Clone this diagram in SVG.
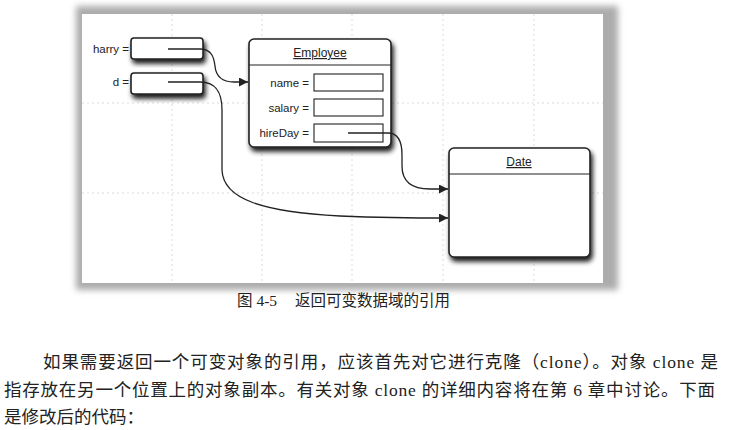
<svg xmlns="http://www.w3.org/2000/svg" width="730" height="430" viewBox="0 0 730 430">
<style>
.lbl{font-family:"Liberation Sans",Arial,sans-serif;font-size:11.5px;fill:#222}
.ttl{font-family:"Liberation Sans",Arial,sans-serif;font-size:12px;fill:#222;text-decoration:underline}
.box{fill:#fff;stroke:#222;stroke-width:1.6}
.fld{fill:#fff;stroke:#222;stroke-width:1.1}
.grid{stroke:#d2d2d2;stroke-width:0.8;stroke-dasharray:2 3;fill:none}
.con{fill:none;stroke:#222;stroke-width:1.3}
.cn{font-family:"Liberation Serif","Noto Sans CJK SC",serif;fill:#222}
</style>
<defs>
<filter id="sh" x="-20%" y="-20%" width="150%" height="160%">
<feGaussianBlur in="SourceAlpha" stdDeviation="2.6"/>
<feOffset dx="2" dy="3.5" result="b"/>
<feComponentTransfer><feFuncA type="linear" slope="0.9"/></feComponentTransfer>
<feMerge><feMergeNode/><feMergeNode in="SourceGraphic"/></feMerge>
</filter>
<filter id="frame" x="-5%" y="-5%" width="110%" height="110%">
<feGaussianBlur stdDeviation="3"/>
</filter>
<marker id="ar" viewBox="0 0 10 10" refX="10" refY="5" markerWidth="9" markerHeight="9" markerUnits="userSpaceOnUse" orient="auto">
<path d="M0,0 L10,5 L0,10 z" fill="#222"/>
</marker>
</defs>
<rect width="730" height="430" fill="#fff"/>
<g id="panel">
<rect x="76" y="6" width="542" height="284" fill="#acacac" filter="url(#frame)"/>
<rect x="82" y="14" width="521" height="269" fill="#fff"/>
<g class="grid">
<path d="M172,14V283M262,14V283M352,14V283M443,14V283M534,14V283"/>
<path d="M82,103H603M82,193H603"/>
</g>
</g>
<g id="harry">
<text class="lbl" x="129" y="53" text-anchor="end">harry =</text>
<rect class="box" x="131" y="38" width="72" height="21" rx="3" filter="url(#sh)"/>
</g>
<g id="d">
<text class="lbl" x="129" y="86" text-anchor="end">d =</text>
<rect class="box" x="131" y="73" width="72" height="21" rx="3" filter="url(#sh)"/>
</g>
<g id="employee">
<rect class="box" x="249" y="39" width="142" height="108" rx="5" filter="url(#sh)"/>
<line x1="249" y1="65" x2="391" y2="65" stroke="#222" stroke-width="1.2"/>
<text class="ttl" x="320" y="57" text-anchor="middle">Employee</text>
<text class="lbl" x="309" y="87" text-anchor="end">name =</text>
<rect class="fld" x="314" y="74" width="69" height="17"/>
<text class="lbl" x="309" y="112" text-anchor="end">salary =</text>
<rect class="fld" x="314" y="99" width="69" height="17"/>
<text class="lbl" x="309" y="137" text-anchor="end">hireDay =</text>
<rect class="fld" x="314" y="124" width="69" height="18"/>
</g>
<g id="date">
<rect class="box" x="449" y="148" width="141" height="109" rx="5" filter="url(#sh)"/>
<line x1="449" y1="174" x2="590" y2="174" stroke="#222" stroke-width="1.2"/>
<text class="ttl" x="519" y="166" text-anchor="middle">Date</text>
</g>
<g id="connectors">
<path class="con" d="M168,49 L200,49 C212,49 214,58 215,66 C216,77 222,82 234,82 L248,82" marker-end="url(#ar)"/>
<path class="con" d="M168,82 L200,82 C216,82 222,92 222,110 L222,170 C223,200 265,212 340,216 C390,218 420,218 448,218" marker-end="url(#ar)"/>
<path class="con" d="M348,133 L388,133 C398,133 402,142 402,155 L402,166 C402,182 412,189 430,189 L448,189" marker-end="url(#ar)"/>
</g>
<g id="caption">
<text class="cn" x="237" y="306" font-size="15.5">图 4-5<tspan x="295">返回可变数据域的引用</tspan></text>
</g>
<g id="body">
<text class="cn" x="43" y="368" font-size="17.5" textLength="675" lengthAdjust="spacing">如果需要返回一个可变对象的引用，应该首先对它进行克隆（clone）。对象 clone 是</text>
<text class="cn" x="4" y="396" font-size="17.5" textLength="711" lengthAdjust="spacing">指存放在另一个位置上的对象副本。有关对象 clone 的详细内容将在第 6 章中讨论。下面</text>
<text class="cn" x="4" y="423" font-size="17.5">是修改后的代码：</text>
</g>
</svg>
